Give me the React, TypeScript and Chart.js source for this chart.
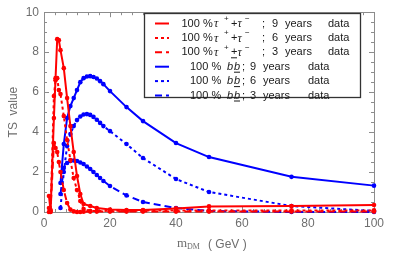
import React, { useEffect, useRef } from "react";
import { Chart, registerables } from "chart.js";

Chart.register(...registerables);

// ---- data ----
const tauMass = [1.5, 2, 3, 3.5, 4, 4.5, 5, 6, 7, 8, 9, 10, 11, 12, 14, 16, 20, 25, 30, 40, 50, 75, 100];
const tau9 = [0.8, 0.05, 4.7, 6.7, 8.65, 8.6, 8.1, 7.2, 5.7, 4.3, 3.0, 1.8, 0.9, 0.4, 0.3, 0.2, 0.12, 0.1, 0.1, 0.18, 0.28, 0.3, 0.35];
const tau6 = [0.2, 0.0, 5.8, 6.6, 6.7, 6.1, 5.9, 4.8, 3.6, 2.6, 1.7, 1.1, 0.55, 0.15, 0.05, 0.05, 0.06, 0.06, 0.07, 0.08, 0.08, 0.08, 0.08];
const tau3 = [0.0, 0.1, 3.45, 3.2, 3.0, 2.5, 2.0, 1.1, 0.45, 0.12, 0.03, 0.0, 0.0, 0.01, 0.02, 0.02, 0.02, 0.02, 0.02, 0.02, 0.02, 0.02, 0.02];

const bMass = [5, 6, 7, 8, 9, 10, 11, 12, 13, 14, 15, 16, 17, 18, 20, 25, 30, 40, 50, 75, 100];
const b9 = [1.45, 3.4, 4.7, 5.3, 5.7, 6.1, 6.5, 6.7, 6.78, 6.8, 6.76, 6.68, 6.55, 6.4, 6.05, 5.25, 4.55, 3.45, 2.75, 1.76, 1.32];
const b6 = [0.2, 2.0, 3.3, 3.9, 4.3, 4.6, 4.78, 4.88, 4.9, 4.86, 4.76, 4.62, 4.46, 4.3, 4.05, 3.4, 2.7, 1.65, 1.0, 0.3, 0.05];
const b3 = [0.9, 2.2, 2.45, 2.55, 2.58, 2.55, 2.48, 2.4, 2.28, 2.15, 2.0, 1.85, 1.7, 1.55, 1.3, 0.83, 0.5, 0.2, 0.05, 0.0, 0.0];

const yearsLabels = ["9", "6", "3"];
const xTickLabels = [0, 20, 40, 60, 80, 100];
const yTickLabels = [0, 2, 4, 6, 8, 10];

const RED = "#ff0000";
const BLUE = "#0000ff";
const DOT = [3, 3];
const DASH = [7, 4];
const AXIS_GRAY = "#8c8c8c";
const LABEL_GRAY = "#6e6e6e";
const SANS = '"Liberation Sans", Arial, sans-serif';
const SERIF = '"Liberation Serif", "Times New Roman", serif';

function mk(mass: number[], vals: number[], color: string, dash: number[]) {
  return {
    data: mass.map((m, i) => ({ x: m, y: vals[i] })),
    borderColor: color,
    backgroundColor: color,
    borderWidth: 2,
    borderDash: dash,
    pointRadius: 2.3,
    pointBorderWidth: 0,
    pointBackgroundColor: color,
    tension: 0,
    clip: 10,
    fill: false,
  };
}

const decorPlugin = {
  id: "decor",
  beforeDatasetsDraw(chart: any) {
    const { ctx, chartArea, scales } = chart;
    const { left, right, top, bottom } = chartArea;
    const x = scales.x;
    const y = scales.y;
    ctx.save();
    ctx.strokeStyle = AXIS_GRAY;
    ctx.lineWidth = 1;
    ctx.setLineDash([]);
    ctx.strokeRect(Math.round(left) + 0.5, Math.round(top) + 0.5, Math.round(right - left), Math.round(bottom - top));
    // x ticks (inward, top and bottom)
    for (let k = 0; k <= 30; k++) {
      const v = (k * 20) / 6;
      const major = k % 6 === 0;
      const len = major ? 5 : 3;
      const px = Math.round(x.getPixelForValue(v)) + 0.5;
      ctx.beginPath();
      ctx.moveTo(px, bottom);
      ctx.lineTo(px, bottom - len);
      ctx.moveTo(px, top);
      ctx.lineTo(px, top + len);
      ctx.stroke();
    }
    // y ticks (inward, left and right)
    for (let k = 0; k <= 20; k++) {
      const v = k * 0.5;
      const major = k % 4 === 0;
      const len = major ? 5 : 3;
      const py = Math.round(y.getPixelForValue(v)) + 0.5;
      ctx.beginPath();
      ctx.moveTo(left, py);
      ctx.lineTo(left + len, py);
      ctx.moveTo(right, py);
      ctx.lineTo(right - len, py);
      ctx.stroke();
    }
    // axis titles
    ctx.fillStyle = LABEL_GRAY;
    ctx.textBaseline = "middle";
    ctx.save();
    ctx.translate(14, (top + bottom) / 2);
    ctx.rotate(-Math.PI / 2);
    ctx.textAlign = "center";
    ctx.font = `12px ${SANS}`;
    ctx.fillText("TS  value", 0, 0);
    ctx.restore();
    ctx.textAlign = "left";
    ctx.font = `13px ${SERIF}`;
    ctx.fillText("m", 177, 244);
    ctx.font = `8px ${SERIF}`;
    ctx.fillText("DM", 187, 247);
    ctx.font = `12px ${SANS}`;
    ctx.fillText("( GeV )", 208, 245);
    ctx.restore();
  },
  afterDraw(chart: any) {
    const { ctx } = chart;
    ctx.save();
    // legend box
    const bx0 = 144, by0 = 13, bx1 = 361, by1 = 98;
    ctx.fillStyle = "#ffffff";
    ctx.fillRect(bx0, by0, bx1 - bx0, by1 - by0);
    ctx.strokeStyle = "#333333";
    ctx.lineWidth = 1.3;
    ctx.setLineDash([]);
    ctx.strokeRect(bx0 + 0.5, by0 + 0.5, bx1 - bx0 - 1, by1 - by0 - 1);

    const dashes = [[], DOT, DASH];
    const textColor = "#1a1a1a";
    for (let i = 0; i < 6; i++) {
      const yy = 23.5 + 14.4 * i;
      const isTau = i < 3;
      const color = isTau ? RED : BLUE;
      ctx.strokeStyle = color;
      ctx.lineWidth = 2;
      ctx.setLineDash(dashes[i % 3]);
      ctx.beginPath();
      ctx.moveTo(155, yy);
      ctx.lineTo(169, yy);
      ctx.stroke();
      ctx.setLineDash([]);

      ctx.fillStyle = textColor;
      ctx.textBaseline = "middle";
      ctx.textAlign = "left";
      const yrs = yearsLabels[i % 3];
      if (isTau) {
        ctx.font = `11px ${SANS}`;
        ctx.fillText("100 %", 181.5, yy);
        ctx.font = `italic 12px ${SERIF}`;
        ctx.fillText("τ", 214, yy + 0.5);
        ctx.font = `8px ${SANS}`;
        ctx.fillText("+", 224, yy - 5);
        ctx.font = `11px ${SANS}`;
        ctx.fillText("+", 231, yy);
        if (i === 2) {
          ctx.strokeStyle = textColor;
          ctx.lineWidth = 1;
          ctx.beginPath();
          ctx.moveTo(231, yy + 5.5);
          ctx.lineTo(237, yy + 5.5);
          ctx.stroke();
        }
        ctx.font = `italic 12px ${SERIF}`;
        ctx.fillText("τ", 237.5, yy + 0.5);
        ctx.font = `8px ${SANS}`;
        ctx.fillText("−", 245, yy - 5);
        ctx.font = `11px ${SANS}`;
        ctx.fillText(";", 262, yy);
        ctx.fillText(yrs, 272, yy);
        ctx.fillText("years", 285, yy);
        ctx.fillText("data", 328, yy);
      } else {
        ctx.font = `11px ${SANS}`;
        ctx.fillText("100 %", 190, yy);
        ctx.font = `italic 11px ${SANS}`;
        ctx.fillText("b", 227, yy);
        ctx.fillText("b", 234, yy);
        ctx.strokeStyle = textColor;
        ctx.lineWidth = 1;
        ctx.beginPath();
        ctx.moveTo(234, yy + 5.5);
        ctx.lineTo(240, yy + 5.5);
        ctx.stroke();
        ctx.font = `11px ${SANS}`;
        ctx.fillText(";", 242, yy);
        ctx.fillText(yrs, 250, yy);
        ctx.fillText("years", 263, yy);
        ctx.fillText("data", 308, yy);
      }
    }
    ctx.restore();
  },
};

export default function App() {
  const ref = useRef<HTMLCanvasElement | null>(null);
  useEffect(() => {
    document.body.style.margin = "0";
    const canvas = ref.current;
    if (!canvas) return;
    const chart = new Chart(canvas, {
      type: "line",
      data: {
        datasets: [
          mk(tauMass, tau9, RED, []),
          mk(tauMass, tau6, RED, DOT),
          mk(tauMass, tau3, RED, DASH),
          mk(bMass, b9, BLUE, []),
          mk(bMass, b6, BLUE, DOT),
          mk(bMass, b3, BLUE, DASH),
        ] as any,
      },
      options: {
        animation: false,
        responsive: false,
        devicePixelRatio: 1,
        layout: { padding: { top: 7, right: 41, left: 0, bottom: 0 } },
        plugins: { legend: { display: false }, tooltip: { enabled: false } },
        scales: {
          x: {
            type: "linear",
            min: 0,
            max: 100,
            afterFit: (s: any) => { s.height = 48; },
            afterBuildTicks: (s: any) => { s.ticks = xTickLabels.map((v) => ({ value: v })); },
            grid: { display: false, drawTicks: false },
            border: { display: false },
            ticks: { color: LABEL_GRAY, font: { size: 12, family: SANS }, padding: 4, maxRotation: 0 },
          },
          y: {
            type: "linear",
            min: 0,
            max: 10,
            afterFit: (s: any) => { s.width = 44; },
            afterBuildTicks: (s: any) => { s.ticks = yTickLabels.map((v) => ({ value: v })); },
            grid: { display: false, drawTicks: false },
            border: { display: false },
            ticks: { color: LABEL_GRAY, font: { size: 12, family: SANS }, padding: 5 },
          },
        },
      },
      plugins: [decorPlugin],
    });
    return () => chart.destroy();
  }, []);
  return (
    <div style={{ width: 415, height: 260, background: "#fff" }}>
      <canvas ref={ref} width={415} height={260} style={{ display: "block" }} />
    </div>
  );
}
